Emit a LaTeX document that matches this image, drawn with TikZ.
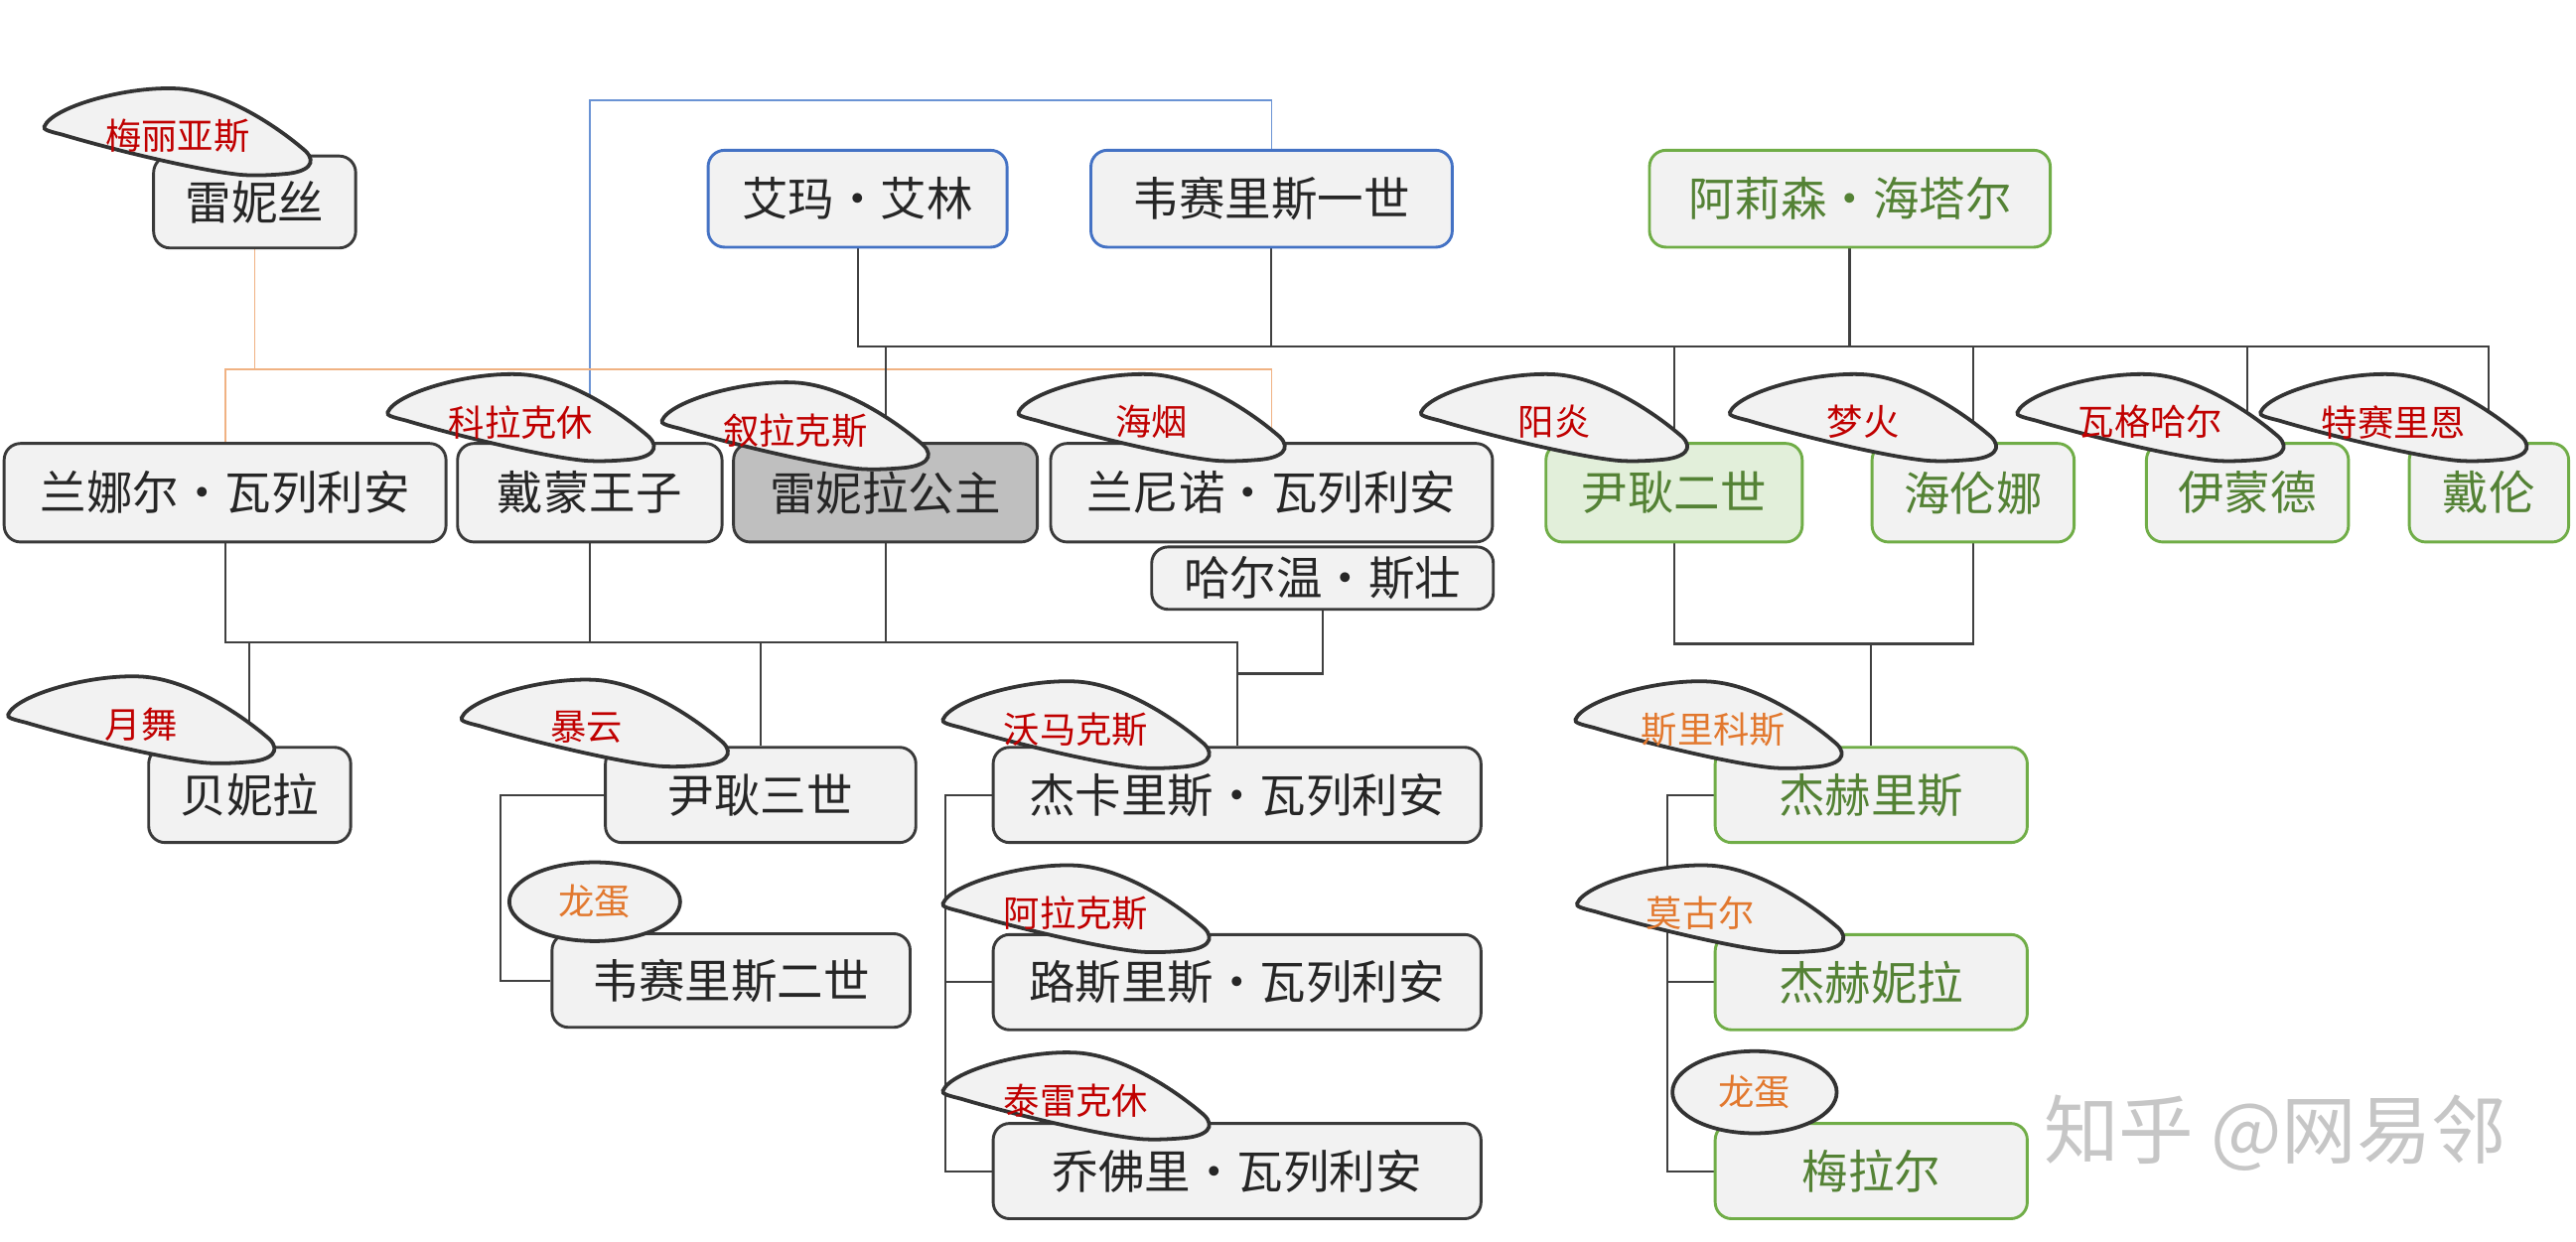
\documentclass[tikz,border=0pt]{standalone}
\usepackage{fontspec}
\setmainfont{Noto Sans CJK SC}
\usepackage{tikz}
\usetikzlibrary{shapes.geometric, positioning, calc, backgrounds}
\usepackage{xcolor}
\definecolor{boxline}{HTML}{3A3A3A}
\definecolor{boxfill}{HTML}{F2F2F2}
\definecolor{kingblue}{HTML}{4472C4}
\definecolor{alicentgreen}{HTML}{70AD47}
\definecolor{greentext}{HTML}{548235}
\definecolor{greenfill}{HTML}{E2EFDA}
\definecolor{dragonred}{HTML}{C00000}
\definecolor{eggorange}{HTML}{E2782E}
\definecolor{linkorange}{HTML}{F0B283}
\definecolor{linkblue}{HTML}{6A93D4}
\tikzstyle{person} = [rectangle, rounded corners=0.2cm, minimum height=1.18cm, inner sep=0pt, text centered, draw=boxline, line width=1pt, fill=boxfill, text=black!85, font=\fontsize{16}{18}\selectfont]
\tikzstyle{blueperson} = [person, draw=kingblue]
\tikzstyle{greenperson} = [person, draw=alicentgreen, text=greentext]
\tikzstyle{dragon} = [inner sep=0pt, text=dragonred, font=\fontsize{12.5}{14}\selectfont]
\tikzstyle{egg} = [dragon, text=eggorange, ellipse, draw=black!80, line width=1.3pt, fill=boxfill]
\tikzstyle{link} = [line width=0.7pt, draw=black!75]
\tikzset{fin/.pic={
  \draw[line width=1.3pt, draw=black!80, fill=boxfill]
    (-81,-6) .. controls (-76,-18) and (-30,-31) .. (1,-29)
    .. controls (30,-27) and (62,-5) .. (78,9)
    .. controls (85,16) and (80,22) .. (64,23)
    .. controls (52,24) and (42,24) .. (35,23)
    .. controls (10,20) and (-40,8) .. (-70,-1)
    .. controls (-78,-3) and (-82,-4) .. cycle;
}}

\begin{document}
\begin{tikzpicture}[x=0.02cm, y=-0.02cm]
    \useasboundingbox (0,0) rectangle (1568,756);

    % First generation
    \node (rhaenys) [person, minimum width=2.46cm, minimum height=1.12cm] at (155,123) {雷妮丝};
    \node (emma) [blueperson, minimum width=3.64cm] at (522,121) {艾玛·艾林};
    \node (viserys) [blueperson, minimum width=4.40cm] at (774,121) {韦赛里斯一世};
    \node (alicent) [greenperson, minimum width=4.88cm] at (1126,121) {阿莉森·海塔尔};

    % Second generation
    \node (laena) [person, minimum width=5.38cm, minimum height=1.2cm] at (137,300) {兰娜尔·瓦列利安};
    \node (daemon) [person, minimum width=3.22cm, minimum height=1.2cm] at (359,300) {戴蒙王子};
    \node (rhaenyra) [person, fill=black!25, minimum width=3.70cm, minimum height=1.2cm] at (539,300) {雷妮拉公主};
    \node (laenor) [person, minimum width=5.38cm, minimum height=1.2cm] at (774,300) {兰尼诺·瓦列利安};
    \node (harwin) [person, minimum width=4.16cm, minimum height=0.76cm] at (805,352) {哈尔温·斯壮};
    \node (aegon2) [greenperson, fill=greenfill, minimum width=3.12cm, minimum height=1.2cm] at (1019,300) {尹耿二世};
    \node (helaena) [greenperson, minimum width=2.46cm, minimum height=1.2cm] at (1201,300) {海伦娜};
    \node (aemond) [greenperson, minimum width=2.46cm, minimum height=1.2cm] at (1368,300) {伊蒙德};
    \node (daeron) [greenperson, minimum width=1.94cm, minimum height=1.2cm] at (1515,300) {戴伦};

    % Third generation
    \node (baela) [person, minimum width=2.46cm, minimum height=1.16cm] at (152,484) {贝妮拉};
    \node (aegon3) [person, minimum width=3.78cm, minimum height=1.16cm] at (463,484) {尹耿三世};
    \node (viserys2) [person, minimum width=4.36cm, minimum height=1.14cm] at (445,597) {韦赛里斯二世};
    \node (jace) [person, minimum width=5.94cm, minimum height=1.16cm] at (753,484) {杰卡里斯·瓦列利安};
    \node (lucerys) [person, minimum width=5.94cm, minimum height=1.16cm] at (753,598) {路斯里斯·瓦列利安};
    \node (joffrey) [person, minimum width=5.94cm, minimum height=1.16cm] at (753,713) {乔佛里·瓦列利安};
    \node (jaehaerys) [greenperson, minimum width=3.80cm, minimum height=1.16cm] at (1139,484) {杰赫里斯};
    \node (jaehaera) [greenperson, minimum width=3.80cm, minimum height=1.16cm] at (1139,598) {杰赫妮拉};
    \node (maelor) [greenperson, minimum width=3.80cm, minimum height=1.16cm] at (1139,713) {梅拉尔};

    % Family lines
    \coordinate (kingline) at (0,211);
    \coordinate (rhline) at (0,225);
    \coordinate (midline) at (0,391);
    \coordinate (greenrow) at (0,392);
    \begin{scope}[on background layer]
        \draw [link, draw=linkblue, line width=0.6pt] (daemon.north) -- ++(0,-208) -| (viserys.north);
        \draw [link, draw=linkorange, line width=0.6pt] (rhaenys.south) -- (rhaenys.south |- rhline);
        \draw [link, draw=linkorange, line width=0.6pt] (laena.north) |- (laenor.north |- rhline) -- (laenor.north);
        \draw [link] (emma.south) |- (daeron.north |- kingline) -- (daeron.north);
        \draw [link] (viserys.south) -- (viserys.south |- kingline);
        \draw [link, line width=1pt] (alicent.south) -- (alicent.south |- kingline);
        \draw [link] (rhaenyra.north) -- (rhaenyra.north |- kingline);
        \draw [link] (aegon2.north) -- (aegon2.north |- kingline);
        \draw [link] (helaena.north) -- (helaena.north |- kingline);
        \draw [link] (aemond.north) -- (aemond.north |- kingline);

        \draw [link] (laena.south) |- (daemon.south |- midline) -- (daemon.south);
        \draw [link] (baela.north) -- (baela.north |- midline);
        \draw [link] (daemon.south |- midline) -| (rhaenyra.south);
        \draw [link] (aegon3.north) -- (aegon3.north |- midline);
        \draw [link] (rhaenyra.south |- midline) -| (jace.north);
        \draw [link] (harwin.south) |- ($(jace.north)+(0,-44)$);
        \draw [link] (aegon3.west) -- ++(-63,0) |- (viserys2.west);
        \draw [link] (jace.west) -- ++(-28,0) |- (joffrey.west);
        \draw [link] (lucerys.west) -- ++(-28,0);

        \draw [link] (aegon2.south) |- (helaena.south |- greenrow) -- (helaena.south);
        \draw [link] (jaehaerys.north) -- (jaehaerys.north |- greenrow);
        \draw [link] (jaehaerys.west) -- ++(-28,0) |- (maelor.west);
        \draw [link] (jaehaera.west) -- ++(-28,0);
    \end{scope}

    % Dragons
    \pic at (108,83) {fin};
    \node (meleys) [dragon] at (108,83) {梅丽亚斯};
    \pic at (317,257) {fin};
    \node (caraxes) [dragon] at (317,257) {科拉克休};
    \pic at (484,262) {fin};
    \node (syrax) [dragon] at (484,262) {叙拉克斯};
    \pic at (701,257) {fin};
    \node (seasmoke) [dragon] at (701,257) {海烟};
    \pic at (946,257) {fin};
    \node (sunfyre) [dragon] at (946,257) {阳炎};
    \pic at (1134,257) {fin};
    \node (dreamfyre) [dragon] at (1134,257) {梦火};
    \pic at (1309,257) {fin};
    \node (vhagar) [dragon] at (1309,257) {瓦格哈尔};
    \pic at (1457,257) {fin};
    \node (tessarion) [dragon] at (1457,257) {特赛里恩};
    \pic at (86,441) {fin};
    \node (moondancer) [dragon] at (86,441) {月舞};
    \pic at (362,443) {fin};
    \node (stormcloud) [dragon] at (357,443) {暴云};
    \pic at (655,444) {fin};
    \node (vermax) [dragon] at (655,444) {沃马克斯};
    \pic at (655,556) {fin};
    \node (arrax) [dragon] at (655,556) {阿拉克斯};
    \pic at (655,670) {fin};
    \node (tyraxes) [dragon] at (655,670) {泰雷克休};
    \pic at (1040,444) {fin};
    \node (shrykos) [dragon, text=eggorange] at (1043,444) {斯里科斯};
    \pic at (1041,556) {fin};
    \node (morghul) [dragon, text=eggorange] at (1035,556) {莫古尔};
    \node (egg1) [egg, minimum width=2.08cm, minimum height=0.96cm] at (362,549) {龙蛋};
    \node (egg2) [egg, minimum width=2.0cm, minimum height=1.0cm] at (1068,665) {龙蛋};

    \node (mark) [text=gray!45, font=\fontsize{26}{28}\selectfont] at (1385,690) {知乎 @网易邻};
\end{tikzpicture}
\end{document}
